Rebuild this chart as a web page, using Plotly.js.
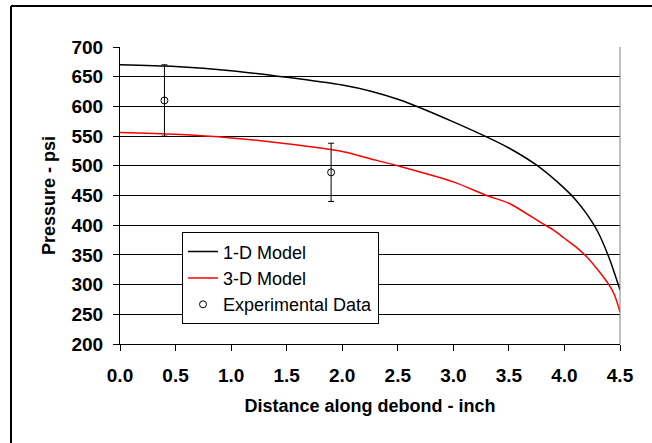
<!DOCTYPE html>
<html>
<head>
<meta charset="utf-8">
<script src="https://cdn.plot.ly/plotly-3.0.1.min.js"></script>
<style>
  html, body { margin: 0; padding: 0; background: #fff; }
  #chart { width: 652px; height: 443px; }
</style>
</head>
<body>
<div id="chart"></div>
<script>
// 1-D model curve
const x1D = [0, 0.5, 1.0, 1.5, 2.0, 2.25, 2.5, 2.75, 3.0, 3.25, 3.5, 3.75, 4.0, 4.1, 4.2, 4.3, 4.4, 4.5];
const y1D = [670, 667, 660, 649, 636, 626, 612, 594, 574, 553, 530, 501, 462, 443, 419, 389, 346, 291];

// 3-D model curve
const x3D = [0, 0.5, 1.0, 1.5, 2.0, 2.25, 2.5, 3.0, 3.3, 3.5, 3.8, 3.9, 4.0, 4.1, 4.2, 4.3, 4.4, 4.45, 4.5];
const y3D = [556, 553, 547, 537, 524, 512, 500, 473, 450, 437, 403, 392, 378, 364, 347, 325, 300, 283, 254];

// Experimental data with error bars
const xExp = [0.4, 1.9];
const yExp = [610, 489];
const errExp = [60, 49];

const xTicks = [0, 0.5, 1.0, 1.5, 2.0, 2.5, 3.0, 3.5, 4.0, 4.5];
const xTickText = ['0.0', '0.5', '1.0', '1.5', '2.0', '2.5', '3.0', '3.5', '4.0', '4.5'];
const yTicks = [200, 250, 300, 350, 400, 450, 500, 550, 600, 650, 700];

const traces = [
  { x: x1D, y: y1D, name: '1-D Model', mode: 'lines', line: { color: '#000000', width: 1.5, shape: 'spline', smoothing: 0.8 } },
  { x: x3D, y: y3D, name: '3-D Model', mode: 'lines', line: { color: '#ff0000', width: 1.5, shape: 'spline', smoothing: 0.8 } },
  { x: xExp, y: yExp, name: 'Experimental Data', mode: 'markers',
    marker: { symbol: 'circle-open', size: 7, color: '#000000', line: { width: 1, color: '#000000' } },
    error_y: { type: 'data', array: errExp, visible: true, color: '#000000', thickness: 1, width: 3 } }
];

const layout = {
  width: 652, height: 443,
  margin: { l: 120, r: 32, t: 47, b: 99 },
  paper_bgcolor: '#ffffff', plot_bgcolor: '#ffffff',
  font: { family: 'Arial, "Liberation Sans", sans-serif', color: '#000000' },
  showlegend: true,
  legend: {
    x: 0.124, y: 0.376, xanchor: 'left', yanchor: 'top',
    bgcolor: '#ffffff', bordercolor: '#000000', borderwidth: 1,
    font: { size: 18, family: 'Arial, "Liberation Sans", sans-serif' },
    tracegroupgap: 0
  },
  xaxis: {
    range: [0, 4.5], tickvals: xTicks, ticktext: xTickText,
    showgrid: false, zeroline: false,
    showline: true, linecolor: '#000000', linewidth: 1,
    ticks: 'outside', ticklen: 6, tickcolor: '#000000', tickwidth: 1,
    ticklabelstandoff: 8,
    tickfont: { size: 19, weight: 'bold' },
    title: { text: '<b>Distance along debond - inch</b>', font: { size: 18 }, standoff: 14 }
  },
  yaxis: {
    range: [200, 700], tickvals: yTicks,
    showgrid: true, gridcolor: '#000000', gridwidth: 1, zeroline: false,
    showline: true, linecolor: '#000000', linewidth: 1,
    ticks: 'outside', ticklen: 6, tickcolor: '#000000', tickwidth: 1,
    ticklabelstandoff: 6,
    tickfont: { size: 19, weight: 'bold' },
    title: { text: '<b>Pressure - psi</b>', font: { size: 18 }, standoff: 11 }
  },
  shapes: [
    { type: 'line', xref: 'paper', yref: 'paper', x0: 1, x1: 1, y0: 0, y1: 1, line: { color: '#808080', width: 1 } },
    { type: 'line', xref: 'paper', yref: 'paper', x0: -0.218, x1: 1.2, y0: 1.138, y1: 1.138, line: { color: '#000000', width: 2 } },
    { type: 'line', xref: 'paper', yref: 'paper', x0: -0.218, x1: -0.218, y0: 1.138, y1: -0.6, line: { color: '#000000', width: 2 } }
  ]
};

Plotly.newPlot('chart', traces, layout, { displayModeBar: false, staticPlot: true });
</script>
</body>
</html>
